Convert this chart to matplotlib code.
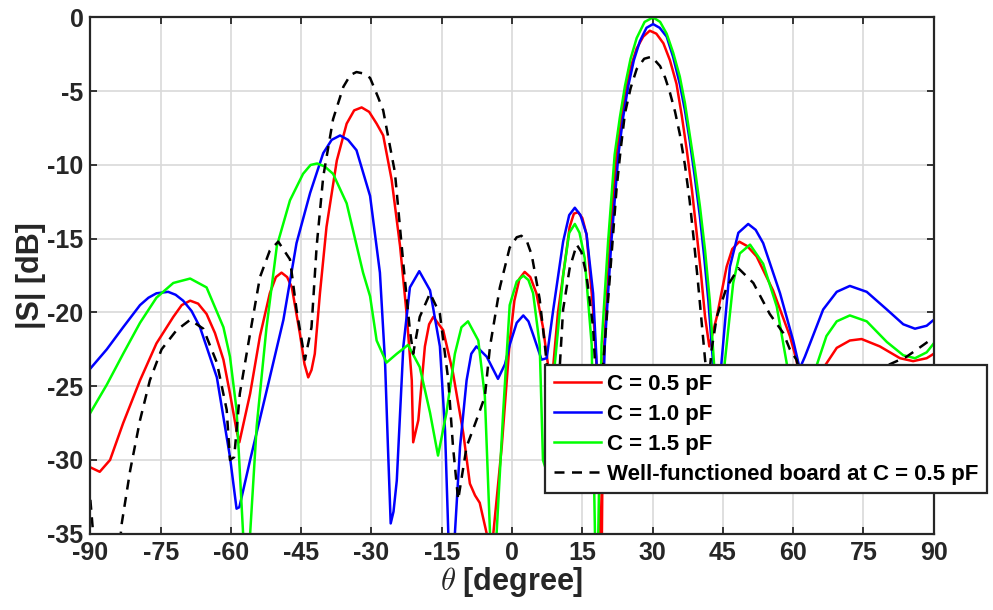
import matplotlib
matplotlib.use("Agg")
import matplotlib.pyplot as plt

plt.rcParams['font.family'] = ['Liberation Sans', 'DejaVu Sans']
plt.rcParams['font.weight'] = 'bold'
plt.rcParams['mathtext.fontset'] = 'cm'
plt.rcParams['axes.unicode_minus'] = False

# angle [deg] / |S| [dB]
red_theta = [-90, -88.0, -85.8, -83.0, -79.4, -75.9, -72.3, -70.5, -68.7, -67.0, -65.2, -63.4, -61.6,
             -60.2, -58.8, -58.2, -55.9, -53.8, -51.7, -50.4, -49.2, -48.0, -47.0, -45.3, -44.3, -43.5,
             -42.8, -42.1, -41.0, -39.6, -37.4, -35.3, -33.7, -32.1, -30.5, -28.9, -27.5, -25.7, -23.9,
             -22.5, -21.4, -21.1, -20.0, -18.6, -17.7, -16.8, -14.7, -12.6, -10.4, -9.0, -7.9, -6.9,
             -5.4, -4.7, -4.0, -2.2, -0.5, 0.5, 1.6, 2.7, 3.9, 5.2, 6.6, 7.7, 8.2, 8.8, 9.8, 10.9,
             12.3, 13.2, 14.1, 15.0, 15.9, 17.3, 18.2, 18.8, 19.0, 19.1, 19.5, 20.9, 22.3, 23.4, 24.5,
             25.5, 26.6, 28.0, 29.4, 30.8, 32.3, 33.7, 35.1, 36.2, 37.3, 38.4, 39.4, 40.3, 41.2, 42.1,
             43.7, 45.8, 47.0, 48.5, 50.2, 52.2, 55.7, 59.3, 60.7, 63.0, 65.2, 66.8, 69.3, 72.1, 74.6,
             78.5, 82.8, 85.6, 88.5, 90]
red_s = [-30.5, -30.8, -30.0, -27.5, -24.6, -22.1, -20.3, -19.5, -19.2, -19.4, -20.1, -21.4, -23.2,
         -25.5, -28.0, -28.8, -25.5, -21.6, -18.7, -17.6, -17.3, -17.6, -18.3, -21.4, -23.5, -24.4,
         -23.9, -22.8, -18.7, -14.2, -9.7, -7.2, -6.3, -6.1, -6.4, -7.2, -8.0, -11.0, -15.5,
         -20.1, -24.6, -28.8, -27.3, -22.3, -20.8, -20.3, -21.2, -24.1, -28.2, -31.6, -32.4, -32.9,
         -35.0, -40.0, -35.0, -29.1, -22.0, -19.2, -17.7, -17.25, -17.6, -18.7, -21.0, -23.6, -25.5, -23.6, -20.0, -17.5,
         -14.2, -13.3, -13.2, -13.6, -14.7, -19.8, -24.5, -35.0, -40.0, -38.0, -23.3, -15.2, -9.3, -6.8, -4.65,
         -3.2, -2.1, -1.3, -0.9, -1.1, -1.75, -2.9, -4.5, -6.6, -9.0, -11.7, -14.6, -17.3, -20.3, -22.3,
         -20.3, -16.9, -15.7, -15.2, -15.5, -16.2, -18.5, -21.6, -23.2, -28.0, -25.5, -23.6, -22.4, -21.9, -21.8,
         -22.3, -23.1, -23.3, -23.1, -22.8]

blue_theta = [-90, -86.5, -83.0, -79.4, -77.6, -75.9, -73.4, -71.8, -70.2, -68.4, -66.6, -63.0, -60.2,
              -58.8, -58.2, -55.9, -51.7, -48.8, -46.0, -43.1, -40.3, -38.5, -36.7, -35.0, -33.2, -30.3,
              -28.2, -27.1, -26.5, -25.9, -25.3, -24.6, -23.2, -21.8, -19.8, -17.5, -15.4, -14.3, -13.6,
              -12.9, -12.2, -11.1, -9.7, -8.7, -7.6, -5.4, -3.0, -1.5, -0.5, 1.0, 2.4, 3.5, 4.5, 6.3,
              7.4, 8.8, 10.9, 12.2, 13.4, 14.6, 15.9, 17.3, 18.0, 18.7, 19.3, 19.8, 21.2, 22.7, 23.7,
              24.8, 26.0, 27.3, 28.7, 30.1, 31.5, 33.0, 34.4, 35.8, 36.9, 37.9, 39.0, 40.1, 41.0, 41.9,
              42.9, 43.8, 44.7, 46.5, 48.3, 50.4, 52.0, 53.6, 57.2, 60.0, 61.4, 62.5, 63.6, 66.4, 69.3,
              72.1, 75.7, 80.0, 83.5, 86.0, 88.5, 90]
blue_s = [-23.8, -22.5, -21.0, -19.5, -19.0, -18.7, -18.6, -18.8, -19.2, -19.9, -21.0, -24.4, -29.8,
          -33.3, -33.2, -30.0, -24.4, -20.5, -15.3, -11.9, -9.2, -8.3, -8.0, -8.3, -9.0, -12.1,
          -17.3, -23.4, -29.0, -34.3, -33.5, -31.4, -22.3, -18.3, -17.2, -18.5, -22.3, -28.0, -35.0,
          -40.0, -35.0, -29.1, -24.6, -22.8, -22.3, -23.0, -24.5, -23.5, -22.2, -20.7, -20.2, -20.6, -21.5, -23.2,
          -23.1, -19.8, -15.2, -13.4, -12.9, -13.4, -14.7, -18.7, -23.0, -30.0, -27.0, -22.2, -15.2, -9.3, -6.8,
          -4.65, -2.9, -1.6, -0.7, -0.45, -0.7, -1.3, -2.7, -4.5, -6.3, -8.3, -10.8, -13.5, -16.2, -19.2,
          -23.4, -27.0, -23.4, -16.9, -14.6, -14.0, -14.4, -15.3, -18.7, -21.9, -23.8, -23.0, -22.1, -19.8, -18.6,
          -18.2, -18.6, -19.8, -20.8, -21.1, -20.9, -20.5]

green_theta = [-90, -86.5, -83.0, -79.4, -75.9, -72.3, -68.7, -65.2, -61.6, -60.2, -58.8, -57.4, -56.7,
               -55.9, -54.5, -52.4, -50.2, -47.4, -44.6, -43.0, -41.6, -40.0, -38.2, -35.3, -31.8, -30.3,
               -28.9, -26.8, -24.6, -22.2, -19.7, -17.5, -15.8, -14.0, -12.2, -10.8, -9.4, -7.2, -5.8,
               -4.7, -4.0, -3.3, -1.9, -0.5, 1.0, 2.4, 3.5, 4.5, 5.9, 6.6, 7.6, 8.4, 9.1, 10.9, 12.2,
               13.4, 14.4, 15.5, 17.0, 17.7, 18.0, 18.4, 19.1, 20.5, 21.9, 23.0, 24.1, 25.3, 26.6, 28.3,
               30.1, 31.6, 33.0, 34.4, 35.8, 36.9, 37.9, 39.0, 40.1, 41.2, 42.2, 43.1, 44.2, 45.4, 47.2,
               48.6, 50.8, 53.6, 56.5, 58.6, 61.5, 63.5, 65.0, 67.1, 69.3, 72.1, 75.7, 80.0, 83.5, 86.0,
               88.5, 90]
green_s = [-26.8, -24.9, -22.8, -20.7, -19.0, -18.0, -17.7, -18.3, -21.0, -23.0, -26.6, -35.0, -40.0,
           -35.0, -27.7, -21.0, -15.5, -12.4, -10.6, -10.0, -9.9, -10.1, -10.6, -12.6, -17.3, -18.9,
           -21.9, -23.4, -22.8, -22.2, -23.7, -26.8, -29.7, -26.8, -22.8, -21.0, -20.6, -21.9, -25.7,
           -35.0, -40.0, -35.0, -26.8, -19.5, -17.9, -17.5, -17.8, -18.7, -22.2, -30.0, -31.0, -27.0, -23.6, -17.5, -14.6,
           -14.0, -14.6, -16.3, -22.2, -35.0, -40.0, -35.0, -22.2, -15.2, -9.3, -6.8, -4.65, -2.8, -1.4, -0.3,
           0.0, -0.3, -1.1, -2.4, -4.0, -5.8, -7.9, -10.2, -12.8, -15.8, -19.2, -23.4, -28.0, -23.4, -18.0,
           -16.0, -15.4, -16.7, -19.6, -23.4, -29.0, -26.0, -23.6, -21.6, -20.6, -20.2, -20.6, -22.0, -22.9, -23.1,
           -22.7, -22.1]

black_theta = [-90, -89.4, -87.5, -85.0, -83.3, -81.5, -79.4, -77.3, -74.8, -71.6, -68.7, -65.9, -63.0,
               -60.9, -60.2, -59.3, -58.1, -55.9, -53.8, -51.7, -49.9, -47.4, -46.0, -44.2, -42.8, -41.7,
               -40.3, -38.2, -36.0, -34.5, -33.2, -31.7, -30.3, -28.6, -27.5, -25.0, -23.2, -21.8, -21.1,
               -19.7, -17.5, -15.4, -13.6, -12.6, -11.5, -9.7, -7.6, -5.8, -4.7, -2.6, -0.5, 1.0, 2.0,
               3.2, 4.2, 5.9, 7.0, 8.5, 10.2, 10.9, 12.3, 13.8, 14.8, 15.9, 17.3, 18.5, 19.5, 20.9, 22.3,
               23.2, 24.1, 25.3, 26.6, 28.2, 29.8, 31.6, 32.7, 33.7, 34.8, 35.8, 36.9, 37.9, 38.8, 39.7,
               41.2, 41.9, 42.6, 43.7, 45.8, 48.3, 51.5, 55.0, 57.9, 59.3, 60.7, 63.0, 66.0, 70.0, 74.0,
               77.0, 80.0, 84.2, 87.8, 90]
black_s = [-32.7, -35.0, -42.0, -40.0, -34.3, -30.7, -27.3, -24.6, -22.5, -21.2, -20.5, -21.1, -23.4,
           -26.6, -30.0, -29.8, -25.5, -21.4, -17.6, -15.8, -15.2, -16.4, -19.8, -23.2, -21.0, -15.5,
           -10.8, -6.9, -4.7, -3.9, -3.7, -3.8, -4.1, -5.4, -6.3, -10.5, -16.7, -21.2, -22.8,
           -20.3, -18.7, -20.1, -24.6, -29.1, -32.7, -29.1, -27.3, -25.7, -22.3, -18.3, -15.6, -14.9, -14.8,
           -15.2, -16.1, -19.1, -22.2, -27.0, -23.6, -19.8, -17.0, -15.4, -15.9, -17.5, -21.0, -28.0, -23.3, -17.5, -11.65,
           -8.9, -6.5, -4.8, -3.5, -2.8, -2.66, -3.3, -4.1, -5.1, -6.4, -7.9, -10.0, -12.4, -15.1, -18.0,
           -23.2, -25.0, -22.5, -20.3, -18.3, -17.0, -18.0, -20.1, -21.4, -22.5, -23.2, -26.0, -28.0, -26.5, -25.5,
           -24.8, -23.6, -23.0, -22.2, -21.7]

labels = ['C = 0.5 pF', 'C = 1.0 pF', 'C = 1.5 pF', 'Well-functioned board at C = 0.5 pF']
x_ticks = [-90, -75, -60, -45, -30, -15, 0, 15, 30, 45, 60, 75, 90]
y_ticks = [-35, -30, -25, -20, -15, -10, -5, 0]

fig = plt.figure(figsize=(9.93, 6.10), dpi=100)
ax = fig.add_axes([0.091, 0.125, 0.8493, 0.8464])

lw = 1.8
ax.plot(red_theta, red_s, color=(1, 0, 0), lw=lw, label=labels[0])
ax.plot(blue_theta, blue_s, color=(0, 0, 1), lw=lw, label=labels[1])
ax.plot(green_theta, green_s, color=(0, 1, 0), lw=lw, label=labels[2])
ax.plot(black_theta, black_s, color='k', lw=lw, dashes=(4, 3), label=labels[3])

ax.set_xlim(-90, 90)
ax.set_ylim(-35, 0)
ax.set_xticks(x_ticks)
ax.set_yticks(y_ticks)
ax.grid(True, color='#d9d9d9', lw=1.2)
ax.set_axisbelow(True)
ax.tick_params(direction='in', length=5, width=1.3, top=True, right=True,
               labelsize=18, colors='#262626', pad=5)
for sp in ax.spines.values():
    sp.set_linewidth(1.6)
    sp.set_color('#262626')

ax.set_xlabel(r'$\theta$ [degree]', fontsize=22, fontweight='bold', color='#262626', labelpad=0)
ax.set_ylabel('|S| [dB]', fontsize=22, fontweight='bold', color='#262626', labelpad=1)

leg = ax.legend(loc='upper left', bbox_to_anchor=(545 / 993, 1 - 365 / 610),
                bbox_transform=fig.transFigure, borderaxespad=0, fancybox=False,
                framealpha=1, edgecolor='#262626', prop={'size': 16, 'weight': 'bold'},
                handlelength=2.1, handletextpad=0.3, labelspacing=0.4, borderpad=0.4)
leg.get_frame().set_linewidth(1.6)

fig.savefig('out.png', dpi=100)
